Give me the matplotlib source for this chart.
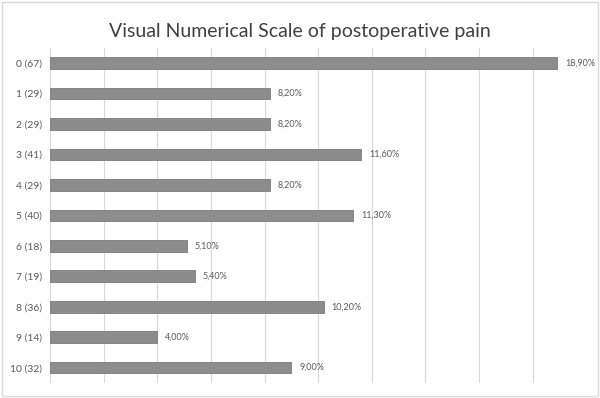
import numpy as np
import matplotlib.pyplot as plt
from matplotlib.patches import Rectangle

plt.rcParams["font.family"] = ["Lato", "DejaVu Sans"]

categories = ["0 (67)", "1 (29)", "2 (29)", "3 (41)", "4 (29)", "5 (40)",
              "6 (18)", "7 (19)", "8 (36)", "9 (14)", "10 (32)"]
percent = [18.9, 8.2, 8.2, 11.6, 8.2, 11.3, 5.1, 5.4, 10.2, 4.0, 9.0]

fig = plt.figure(figsize=(6.0, 3.98), dpi=100)
ax = fig.add_axes([0.0833, 0.038, 0.894, 0.842])

y = np.arange(len(categories))
ax.barh(y, percent, height=0.38, color="#8c8c8c", edgecolor="#7a7a7a", linewidth=0.6, zorder=3)

for yi, v in zip(y, percent):
    txt = f"{v:.2f}".replace(".", ",") + "%"
    ax.text(v + 0.3, yi, txt, va="center", ha="left", fontsize=6.5, color="#595959")

ax.set_xlim(0, 20)
ax.set_ylim(10.5, -0.5)
ax.set_xticks(np.arange(0, 21, 2))
ax.set_xticklabels([])
ax.tick_params(axis="x", length=0)
ax.tick_params(axis="y", length=0, labelsize=7.5, labelcolor="#595959", pad=6)
ax.set_yticks(y)
ax.set_yticklabels(categories)
ax.grid(axis="x", color="#d9d9d9", linewidth=0.8, zorder=0)
for s in ax.spines.values():
    s.set_visible(False)

fig.text(0.5, 0.92, "Visual Numerical Scale of postoperative pain",
         ha="center", va="center", fontsize=14, color="#404040")

fig.patches.append(Rectangle((0.004, 0.006), 0.992, 0.988, transform=fig.transFigure,
                             fill=False, edgecolor="#d9d9d9", linewidth=1.0))

fig.savefig("out.png", dpi=100)
